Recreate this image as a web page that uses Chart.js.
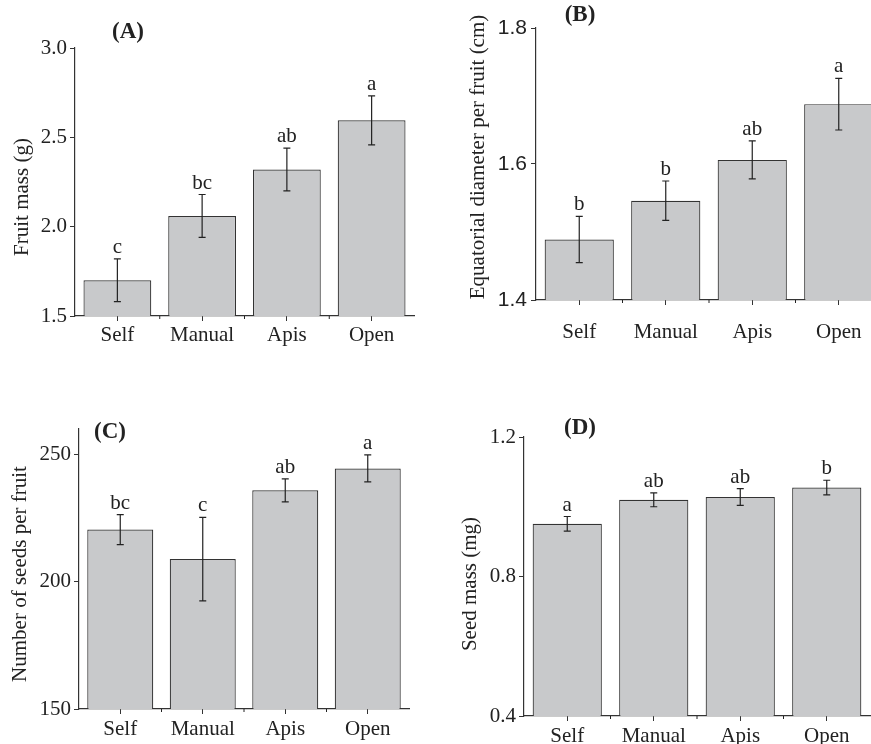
<!DOCTYPE html>
<html>
<head>
<meta charset="utf-8">
<script src="https://cdn.jsdelivr.net/npm/chart.js@4"></script>
<style>
  html, body { margin: 0; padding: 0; background: #fff; overflow: hidden; }
  body { width: 871px; height: 744px; position: relative; }
  .panel { position: absolute; }
</style>
</head>
<body>
<div class="panel" style="left:0;top:0;width:435px;height:360px"><canvas id="chartA"></canvas></div>
<div class="panel" style="left:435px;top:0;width:460px;height:360px"><canvas id="chartB"></canvas></div>
<div class="panel" style="left:0;top:380px;width:435px;height:364px"><canvas id="chartC"></canvas></div>
<div class="panel" style="left:435px;top:380px;width:436px;height:364px"><canvas id="chartD"></canvas></div>
<script>
const categories = ['Self', 'Manual', 'Apis', 'Open'];

const fruitMass = [1.70, 2.06, 2.32, 2.595];
const fruitMassErr = [0.12, 0.12, 0.12, 0.137];
const fruitMassLetters = ['c', 'bc', 'ab', 'a'];
const fruitMassTicks = [1.5, 2.0, 2.5, 3.0];

const diameter = [1.489, 1.546, 1.606, 1.688];
const diameterErr = [0.034, 0.029, 0.028, 0.038];
const diameterLetters = ['b', 'b', 'ab', 'a'];
const diameterTicks = [1.4, 1.6, 1.8];

const seeds = [220.5, 208.9, 235.9, 244.5];
const seedsErr = [5.9, 16.4, 4.5, 5.3];
const seedsLetters = ['bc', 'c', 'ab', 'a'];
const seedsTicks = [150, 200, 250];

const seedMass = [0.951, 1.020, 1.028, 1.055];
const seedMassErr = [0.021, 0.020, 0.024, 0.021];
const seedMassLetters = ['a', 'ab', 'ab', 'b'];
const seedMassTicks = [0.4, 0.8, 1.2];

const SERIF = '"Liberation Serif", "Times New Roman", serif';
const SANS = '"Liberation Sans", Arial, sans-serif';
const INK = '#222';

// error bars, letters, minor ticks, panel tag and y title
const annotate = {
    id: 'annotate',
    afterDraw(chart, args, opts) {
        const ctx = chart.ctx;
        const area = chart.chartArea;
        const y = chart.scales.y;
        const bars = chart.getDatasetMeta(0).data;
        const vals = chart.data.datasets[0].data;
        ctx.save();
        ctx.strokeStyle = INK;
        ctx.fillStyle = INK;
        ctx.lineWidth = 1.2;
        ctx.font = '21px ' + SERIF;
        ctx.textAlign = 'center';
        ctx.textBaseline = 'alphabetic';
        bars.forEach((bar, i) => {
            const top = y.getPixelForValue(vals[i] + opts.err[i]);
            const bot = y.getPixelForValue(vals[i] - opts.err[i]);
            ctx.beginPath();
            ctx.moveTo(bar.x, top); ctx.lineTo(bar.x, bot);
            ctx.moveTo(bar.x - 3.5, top); ctx.lineTo(bar.x + 3.5, top);
            ctx.moveTo(bar.x - 3.5, bot); ctx.lineTo(bar.x + 3.5, bot);
            ctx.stroke();
            ctx.fillText(opts.letters[i], bar.x, top - 6);
        });
        // small ticks between categories
        ctx.lineWidth = 1;
        for (let i = 0; i < bars.length - 1; i++) {
            const mx = (bars[i].x + bars[i + 1].x) / 2;
            ctx.beginPath();
            ctx.moveTo(mx, area.bottom); ctx.lineTo(mx, area.bottom + 3);
            ctx.stroke();
        }
        ctx.font = 'bold 23px ' + SERIF;
        ctx.textBaseline = 'middle';
        ctx.fillText(opts.tag, opts.tagX, opts.tagY);
        ctx.translate(opts.titleX, opts.titleY);
        ctx.rotate(-Math.PI / 2);
        ctx.font = '21px ' + SERIF;
        ctx.fillText(opts.title, 0, 0);
        ctx.restore();
    }
};

function makePanel(id, cfg) {
    return new Chart(document.getElementById(id).getContext('2d'), {
        type: 'bar',
        data: {
            labels: categories,
            datasets: [{
                data: cfg.values,
                backgroundColor: '#c8c9cb',
                borderColor: '#333',
                borderWidth: 1.2,
                borderSkipped: false,
                barPercentage: 0.8,
                categoryPercentage: 1.0
            }]
        },
        options: {
            responsive: true,
            maintainAspectRatio: false,
            animation: false,
            layout: { padding: { top: cfg.top, right: cfg.right, left: 0, bottom: 0 } },
            plugins: {
                legend: { display: false },
                tooltip: { enabled: false },
                annotate: {
                    err: cfg.err, letters: cfg.letters,
                    tag: cfg.tag, tagX: cfg.tagX, tagY: cfg.tagY,
                    title: cfg.title, titleX: cfg.titleX, titleY: cfg.titleY
                }
            },
            scales: {
                x: {
                    z: 1,
                    afterFit(scale) { scale.height = cfg.xHeight; },
                    grid: { drawOnChartArea: false, offset: false, tickLength: 5, color: '#333', lineWidth: 1 },
                    border: { color: '#333', width: 1.2 },
                    ticks: { color: INK, padding: cfg.xPad, font: { family: SERIF, size: 21 } }
                },
                y: {
                    z: 1,
                    min: cfg.min,
                    max: cfg.max,
                    afterFit(scale) { scale.width = cfg.yWidth; },
                    afterBuildTicks(scale) { scale.ticks = cfg.ticks.map(v => ({ value: v })); },
                    grid: { drawOnChartArea: false, tickLength: 5, color: '#333', lineWidth: 1 },
                    border: { color: '#333', width: 1.2 },
                    ticks: {
                        color: INK,
                        padding: cfg.yPad,
                        font: { family: cfg.tickFont, size: cfg.tickSize },
                        callback: v => v.toFixed(cfg.digits)
                    }
                }
            }
        },
        plugins: [annotate]
    });
}

makePanel('chartA', {
    values: fruitMass, err: fruitMassErr, letters: fruitMassLetters, ticks: fruitMassTicks,
    min: 1.5, max: 3.0, digits: 1, tickFont: SERIF, tickSize: 21,
    top: 48, right: 21, yWidth: 75, xHeight: 44, xPad: 2, yPad: 3,
    tag: '(A)', tagX: 128, tagY: 32,
    title: 'Fruit mass (g)', titleX: 22, titleY: 197
});

makePanel('chartB', {
    values: diameter, err: diameterErr, letters: diameterLetters, ticks: diameterTicks,
    min: 1.4, max: 1.8, digits: 1, tickFont: SANS, tickSize: 21,
    top: 28, right: 13, yWidth: 101, xHeight: 60, xPad: 15, yPad: 4,
    tag: '(B)', tagX: 145, tagY: 15,
    title: 'Equatorial diameter per fruit (cm)', titleX: 43, titleY: 157
});

makePanel('chartC', {
    values: seeds, err: seedsErr, letters: seedsLetters, ticks: seedsTicks,
    min: 150, max: 260, digits: 0, tickFont: SERIF, tickSize: 21,
    top: 49, right: 26, yWidth: 79, xHeight: 35, xPad: 3, yPad: 3,
    tag: '(C)', tagX: 110, tagY: 52,
    title: 'Number of seeds per fruit', titleX: 20, titleY: 194
});

makePanel('chartD', {
    values: seedMass, err: seedMassErr, letters: seedMassLetters, ticks: seedMassTicks,
    min: 0.4, max: 1.2, digits: 1, tickFont: SERIF, tickSize: 21,
    top: 57, right: 1, yWidth: 89, xHeight: 28, xPad: 3, yPad: 3,
    tag: '(D)', tagX: 145, tagY: 48,
    title: 'Seed mass (mg)', titleX: 35, titleY: 204
});
</script>
</body>
</html>
